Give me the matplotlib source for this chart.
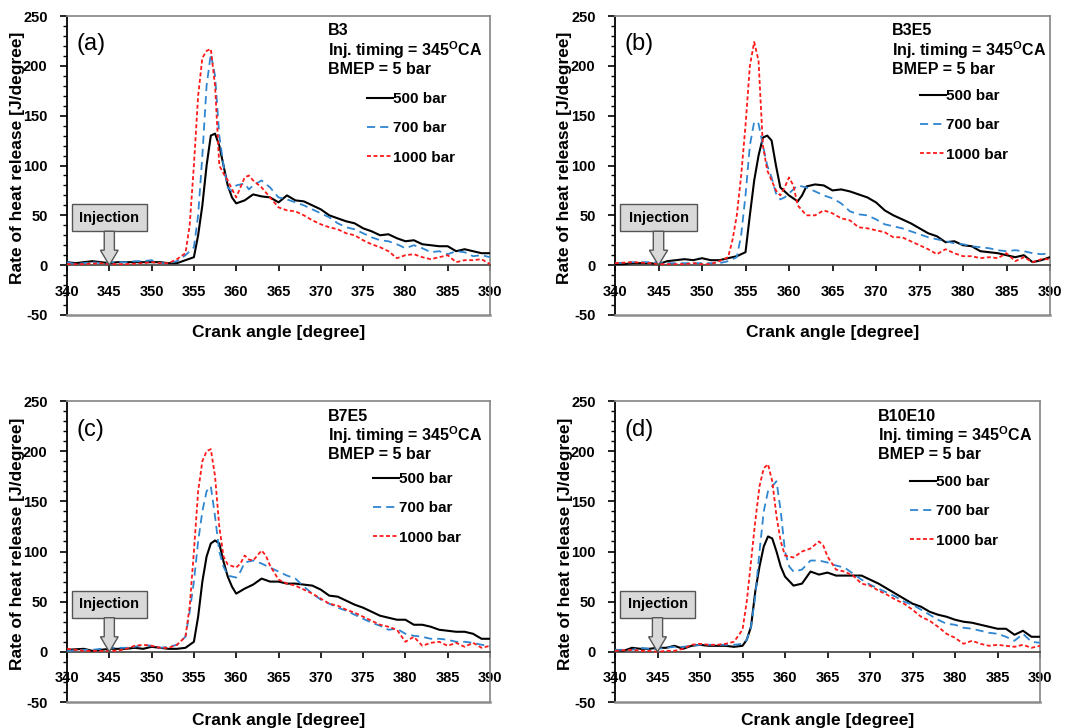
import numpy as np
import matplotlib.pyplot as plt
from matplotlib.patches import Rectangle, FancyArrow

plt.rcParams['font.family'] = ['Liberation Sans', 'DejaVu Sans']
plt.rcParams['mathtext.fontset'] = 'custom'
plt.rcParams['mathtext.bf'] = 'Liberation Sans:bold'
plt.rcParams['mathtext.rm'] = 'Liberation Sans:bold'
plt.rcParams['axes.unicode_minus'] = False

# rate of heat release curves, (crank angle, J/degree)
b3_500 = [(340, 3), (341, 2), (342, 3), (343, 4), (344, 3), (345, 2), (346, 3), (347, 3), (348, 3), (349, 3),
          (350, 3), (351, 3), (352, 2), (353, 2), (354, 5), (355, 8), (355.5, 30), (356, 60), (356.5, 100),
          (357, 130), (357.5, 132), (358, 120), (358.5, 100), (359, 80), (359.5, 68), (360, 62), (361, 65),
          (362, 71), (363, 69), (364, 68), (365, 63), (366, 70), (367, 65), (368, 64), (369, 60), (370, 56),
          (371, 50), (372, 47), (373, 44), (374, 42), (375, 37), (376, 34), (377, 30), (378, 31), (379, 27),
          (380, 24), (381, 25), (382, 21), (383, 20), (384, 19), (385, 19), (386, 14), (387, 16), (388, 14),
          (389, 12), (390, 12)]
b3_700 = [(340, 3), (341, 1), (342, 2), (343, 3), (344, 2), (345, 3), (346, 3), (347, 3), (348, 4), (349, 4),
          (350, 5), (351, 2), (352, 2), (353, 4), (354, 10), (355, 18), (355.5, 50), (356, 110), (356.5, 180),
          (357, 212), (357.5, 190), (358, 130), (358.5, 100), (359, 78), (359.5, 74), (360, 80), (361, 82),
          (361.5, 76), (362, 80), (363, 85), (364, 78), (365, 68), (366, 66), (367, 63), (368, 60), (369, 56),
          (370, 52), (371, 48), (372, 42), (373, 38), (374, 36), (375, 32), (376, 28), (377, 25), (378, 24),
          (379, 21), (380, 17), (381, 20), (382, 17), (383, 13), (384, 14), (385, 11), (386, 14), (387, 13),
          (388, 9), (389, 10), (390, 8)]
b3_1000 = [(340, 1), (342, 1), (344, 2), (345, 1), (347, 1), (349, 2), (350, 3), (351, 2), (352, 2), (353, 6),
           (354, 12), (354.5, 40), (355, 100), (355.5, 170), (356, 208), (356.5, 215), (357, 217), (357.5, 180),
           (358, 100), (358.5, 92), (359, 85), (360, 68), (360.5, 78), (361, 88), (361.5, 90), (362, 85),
           (363, 78), (364, 68), (365, 58), (366, 55), (367, 54), (368, 50), (369, 45), (370, 41), (371, 38),
           (372, 36), (373, 32), (374, 30), (375, 25), (376, 21), (377, 18), (378, 14), (379, 7), (380, 10),
           (381, 11), (382, 8), (383, 6), (384, 8), (385, 10), (386, 3), (387, 5), (388, 5), (389, 6), (390, 1)]

b3e5_500 = [(340, 1), (341, 1), (342, 2), (343, 2), (344, 2), (345, 1), (346, 4), (347, 5), (348, 6), (349, 5),
            (350, 7), (351, 5), (352, 5), (353, 7), (354, 9), (355, 13), (355.5, 50), (356, 85), (356.5, 110),
            (357, 128), (357.5, 130), (358, 125), (358.5, 100), (359, 78), (359.5, 74), (360, 70), (361, 64),
            (361.5, 70), (362, 79), (363, 81), (364, 80), (365, 75), (366, 76), (367, 74), (368, 71), (369, 68),
            (370, 63), (371, 55), (372, 50), (373, 46), (374, 42), (375, 37), (376, 32), (377, 29), (378, 23),
            (379, 24), (380, 20), (381, 19), (382, 14), (383, 13), (384, 12), (385, 10), (386, 8), (387, 10),
            (388, 3), (389, 5), (390, 8)]
b3e5_700 = [(340, 2), (342, 3), (344, 3), (345, 3), (346, 2), (348, 2), (350, 2), (352, 2), (353, 4), (354, 8),
            (354.5, 30), (355, 70), (355.5, 120), (356, 144), (356.5, 142), (357, 120), (357.5, 100), (358, 88),
            (358.5, 72), (359, 66), (359.5, 68), (360, 72), (361, 80), (362, 78), (363, 74), (364, 70), (365, 67),
            (366, 62), (367, 54), (368, 51), (369, 50), (370, 46), (371, 41), (372, 39), (373, 37), (374, 34),
            (375, 31), (376, 28), (377, 26), (378, 24), (379, 22), (380, 21), (381, 19), (382, 18), (383, 17),
            (384, 15), (385, 14), (386, 15), (387, 14), (388, 12), (389, 11), (390, 12)]
b3e5_1000 = [(340, 2), (342, 3), (344, 2), (345, 1), (346, 1), (348, 1), (349, 2), (350, 1), (351, 1), (352, 4),
             (353, 8), (353.5, 25), (354, 50), (354.5, 90), (355, 140), (355.5, 200), (356, 224), (356.5, 205),
             (357, 120), (357.5, 95), (358, 85), (358.5, 75), (359, 70), (359.5, 78), (360, 88), (360.5, 80),
             (361, 60), (362, 50), (363, 50), (364, 55), (365, 52), (366, 47), (367, 45), (368, 38), (369, 37),
             (370, 35), (371, 33), (372, 28), (373, 28), (374, 24), (375, 20), (376, 16), (377, 11), (378, 16),
             (379, 12), (380, 9), (381, 9), (382, 7), (383, 8), (384, 7), (385, 12), (386, 4), (387, 8), (388, 3),
             (389, 6), (390, 6)]

b7e5_500 = [(340, 2), (342, 3), (343, 1), (345, 3), (346, 3), (347, 3), (348, 4), (349, 3), (350, 5), (351, 4),
            (352, 3), (353, 3), (354, 4), (355, 10), (355.5, 35), (356, 70), (356.5, 95), (357, 108), (357.5, 111),
            (358, 108), (358.5, 90), (359, 75), (359.5, 65), (360, 58), (361, 63), (362, 67), (363, 73), (364, 70),
            (365, 70), (366, 68), (367, 68), (368, 67), (369, 66), (370, 62), (371, 56), (372, 55), (373, 51),
            (374, 47), (375, 44), (376, 40), (377, 36), (378, 34), (379, 32), (380, 32), (381, 27), (382, 27),
            (383, 25), (384, 22), (385, 21), (386, 20), (387, 20), (388, 18), (389, 13), (390, 13)]
b7e5_700 = [(340, 1), (342, 2), (343, 2), (344, 3), (345, 4), (346, 4), (347, 4), (348, 5), (349, 7), (350, 6),
            (351, 4), (352, 5), (353, 7), (354, 15), (354.5, 40), (355, 70), (355.5, 110), (356, 140), (356.5, 160),
            (357, 165), (357.5, 135), (358, 100), (358.5, 85), (359, 76), (360, 74), (360.5, 80), (361, 89),
            (362, 91), (363, 88), (364, 84), (365, 80), (366, 76), (367, 73), (368, 65), (369, 58), (370, 52),
            (371, 48), (372, 44), (373, 41), (374, 37), (375, 33), (376, 29), (377, 26), (378, 22), (379, 23),
            (380, 18), (381, 16), (382, 15), (383, 13), (384, 13), (385, 12), (386, 10), (387, 10), (388, 9),
            (389, 7), (390, 6)]
b7e5_1000 = [(340, 3), (342, 1), (344, 1), (345, 1), (346, 1), (347, 3), (348, 6), (349, 7), (350, 6), (351, 4),
             (352, 4), (353, 7), (354, 15), (354.5, 45), (355, 100), (355.5, 160), (356, 190), (356.5, 200),
             (357, 202), (357.5, 175), (358, 125), (358.5, 95), (359, 87), (360, 84), (360.5, 88), (361, 96),
             (361.5, 92), (362, 91), (363, 101), (363.5, 96), (364, 86), (365, 72), (366, 68), (367, 66), (368, 62),
             (369, 58), (370, 53), (371, 48), (372, 46), (373, 42), (374, 39), (375, 35), (376, 31), (377, 27),
             (378, 25), (379, 22), (380, 10), (381, 15), (382, 6), (383, 9), (384, 10), (385, 6), (386, 9), (387, 5),
             (388, 9), (389, 4), (390, 6)]

b10e10_500 = [(340, 2), (341, 1), (342, 4), (343, 3), (344, 3), (345, 4), (346, 4), (347, 6), (348, 3), (349, 6),
              (350, 7), (351, 6), (352, 6), (353, 6), (354, 5), (355, 6), (355.5, 12), (356, 25), (356.5, 60),
              (357, 85), (357.5, 105), (358, 115), (358.5, 113), (359, 100), (359.5, 85), (360, 75), (361, 66),
              (362, 68), (363, 80), (364, 77), (365, 79), (366, 76), (367, 76), (368, 76), (369, 76), (370, 72),
              (371, 68), (372, 63), (373, 58), (374, 53), (375, 48), (376, 45), (377, 40), (378, 37), (379, 35),
              (380, 32), (381, 30), (382, 29), (383, 27), (384, 25), (385, 23), (386, 23), (387, 17), (388, 21),
              (389, 15), (390, 15)]
b10e10_700 = [(340, 2), (342, 2), (343, 4), (344, 3), (345, 3), (346, 4), (347, 5), (348, 5), (349, 6), (350, 7),
              (351, 7), (352, 7), (353, 7), (354, 7), (355, 8), (355.5, 12), (356, 25), (356.5, 55), (357, 100),
              (357.5, 140), (358, 160), (358.5, 165), (359, 170), (359.5, 140), (360, 100), (360.5, 85), (361, 80),
              (362, 82), (363, 91), (364, 91), (365, 89), (366, 86), (367, 84), (368, 78), (369, 72), (370, 67),
              (371, 63), (372, 59), (373, 55), (374, 50), (375, 47), (376, 42), (377, 37), (378, 32), (379, 28),
              (380, 27), (381, 24), (382, 23), (383, 21), (384, 19), (385, 18), (386, 15), (387, 11), (388, 18),
              (389, 10), (390, 9)]
b10e10_1000 = [(340, 1), (342, 2), (343, 1), (344, 1), (345, 0), (346, 1), (347, 1), (348, 3), (349, 7), (350, 8),
               (351, 7), (352, 7), (353, 8), (354, 10), (355, 22), (355.5, 50), (356, 90), (356.5, 130), (357, 165),
               (357.5, 183), (358, 187), (358.5, 170), (359, 135), (359.5, 110), (360, 96), (361, 94), (362, 100),
               (363, 103), (364, 110), (364.5, 106), (365, 95), (366, 82), (367, 80), (368, 76), (369, 68),
               (370, 66), (371, 61), (372, 57), (373, 52), (374, 48), (375, 42), (376, 35), (377, 31), (378, 25),
               (379, 18), (380, 14), (381, 8), (382, 11), (383, 8), (384, 6), (385, 7), (386, 6), (387, 5), (388, 7),
               (389, 4), (390, 6)]

fuels = ['B3', 'B3E5', 'B7E5', 'B10E10']
panel_tags = ['(a)', '(b)', '(c)', '(d)']
series_labels = ['500 bar', '700 bar', '1000 bar']
curves = [[b3_500, b3_700, b3_1000],
          [b3e5_500, b3e5_700, b3e5_1000],
          [b7e5_500, b7e5_700, b7e5_1000],
          [b10e10_500, b10e10_700, b10e10_1000]]
inj_angle = 345
bmep = 5

colors = ['#000000', '#2f86d0', '#ff1a1a']
styles = ['-', (0, (4.5, 2.8)), (0, (2.2, 1.4))]
widths = [1.5, 1.3, 1.3]

# axes boxes in figure pixels: left, right, top, bottom
W, H = 1086, 728
boxes = [(67, 490, 16, 315), (615, 1050, 16, 315), (67, 490, 401, 702), (615, 1040, 401, 702)]
text_x = [0.617, 0.637, 0.617, 0.619]
legend_x = [0.709, 0.701, 0.723, 0.694]
legend_y = [0.746, 0.756, 0.764, 0.754]

fig = plt.figure(figsize=(W / 100, H / 100), dpi=100)

for k in range(4):
    l, r, t, b = boxes[k]
    ax = fig.add_axes([l / W, (H - b) / H, (r - l) / W, (b - t) / H])
    for data, lab, c, ls, lw in zip(curves[k], series_labels, colors, styles, widths):
        xs = [p[0] for p in data]
        ys = [p[1] for p in data]
        ax.plot(xs, ys, color=c, linestyle=ls, linewidth=lw, label=lab, zorder=3)

    ax.set_xlim(340, 390)
    ax.set_ylim(-50, 250)
    ax.set_xticks(np.arange(340, 391, 5))
    ax.set_yticks(np.arange(-50, 251, 50))
    ax.set_yticks(np.arange(-50, 251, 10), minor=True)

    ax.spines['bottom'].set_position(('data', 0))
    ax.spines['bottom'].set_color('#404040')
    ax.spines['bottom'].set_linewidth(1.2)
    ax.spines['left'].set_color('black')
    ax.spines['left'].set_linewidth(1.3)
    for s in ['top', 'right']:
        ax.spines[s].set_color('#8c8c8c')
        ax.spines[s].set_linewidth(1.3)
    ax.axhline(-50, color='#8c8c8c', linewidth=1.8, clip_on=False, zorder=4)

    ax.tick_params(axis='x', direction='out', length=4, width=1.2, pad=10, labelsize=10.5)
    ax.tick_params(axis='y', which='major', direction='out', length=5, width=1.2, pad=9, labelsize=10.5)
    ax.tick_params(axis='y', which='minor', direction='out', length=3, width=1.0)
    for lbl in ax.get_xticklabels() + ax.get_yticklabels():
        lbl.set_fontweight('bold')

    ax.set_xlabel('Crank angle [degree]', fontsize=12.5, fontweight='bold')
    ax.set_ylabel('Rate of heat release [J/degree]', fontsize=12.5, fontweight='bold')
    ax.xaxis.set_label_coords(0.5, -0.035)
    ax.yaxis.set_label_coords(-0.10, 0.525)

    ax.text(0.022, 0.905, panel_tags[k], transform=ax.transAxes, fontsize=17, va='center', ha='left')
    info = fuels[k] + '\nInj. timing = ' + str(inj_angle) + r'$^{\mathbf{O}}$' + 'CA\nBMEP = ' + str(bmep) + ' bar'
    ax.text(text_x[k], 0.975, info, transform=ax.transAxes, fontsize=11.5, fontweight='bold',
            va='top', ha='left', linespacing=1.05)

    ax.legend(loc='upper left', bbox_to_anchor=(legend_x[k], legend_y[k]), frameon=False,
              handlelength=1.7, handletextpad=0.0, labelspacing=1.0, borderpad=0, borderaxespad=0,
              prop={'weight': 'bold', 'size': 11})

    # injection marker: grey label box with a block arrow down to the axis
    ax.add_patch(Rectangle((340.6, 34), 8.8, 27, facecolor='#d9d9d9', edgecolor='#555555',
                           linewidth=1.0, zorder=5))
    ax.text(345, 47.5, 'Injection', fontsize=10.5, fontweight='bold', ha='center', va='center', zorder=6)
    ax.add_patch(FancyArrow(inj_angle, 34, 0, -34, width=1.2, head_width=2.1, head_length=15,
                            length_includes_head=True, facecolor='#d9d9d9', edgecolor='#555555',
                            linewidth=1.0, zorder=5))

fig.savefig('out.png', dpi=100)
